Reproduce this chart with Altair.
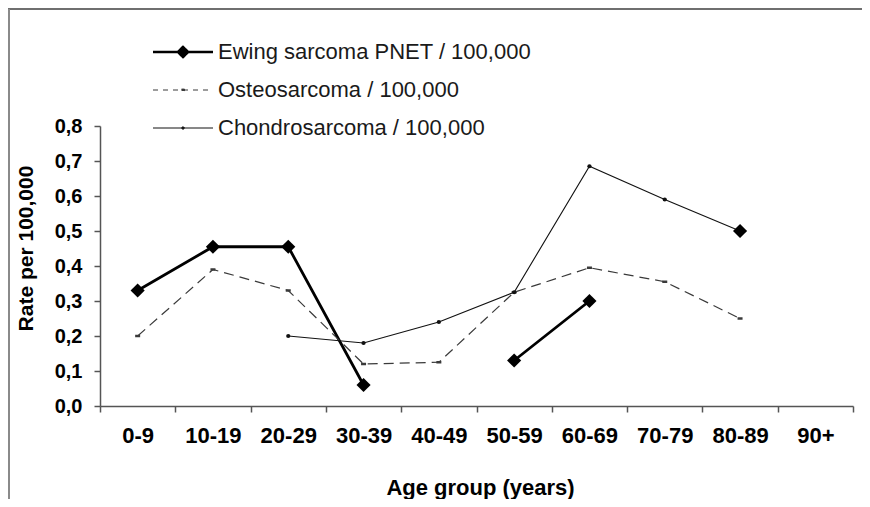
import altair as alt
import pandas as pd

categories = ["0-9", "10-19", "20-29", "30-39", "40-49", "50-59", "60-69", "70-79", "80-89", "90+"]
series_names = ["Ewing sarcoma PNET / 100,000", "Osteosarcoma / 100,000", "Chondrosarcoma / 100,000"]
ewing = [0.33, 0.455, 0.455, 0.06, None, 0.13, 0.30, None, 0.50, None]
osteo = [0.20, 0.39, 0.33, 0.12, 0.125, 0.325, 0.395, 0.355, 0.25, None]
chondro = [None, None, 0.20, 0.18, 0.24, 0.325, 0.685, 0.59, 0.50, None]

rows = []
for name, vals in zip(series_names, [ewing, osteo, chondro]):
    for c, v in zip(categories, vals):
        rows.append({"age": c, "series": name, "rate": v})
df = pd.DataFrame(rows)

W, H = 753, 280
PAD = {"left": 92, "top": 118, "right": 9, "bottom": 93}

EW_PATH = "M-1,0L1,0M0,-0.17L0.17,0L0,0.17L-0.17,0Z"
OS_PATH = "M-1,0L1,0M-0.05,-0.03L0.05,-0.03L0.05,0.03L-0.05,0.03Z"
CH_PATH = "M-1,0L1,0M0,-0.05L0.05,0L0,0.05L-0.05,0Z"
t_ew = "datum.value === '" + series_names[0] + "'"
t_os = "datum.value === '" + series_names[1] + "'"

legend = alt.Legend(
    title=None, orient="none", legendX=72, legendY=-85,
    labelFont="Liberation Sans", labelFontSize=22, labelColor="#1a1a1a",
    labelOffset=24, labelLimit=600, rowPadding=16, padding=0,
    symbolSize=3600, symbolOpacity=1,
    symbolType={"expr": f"{t_ew} ? '{EW_PATH}' : ({t_os} ? '{OS_PATH}' : '{CH_PATH}')"},
    symbolStrokeWidth={"expr": f"{t_ew} ? 2.5 : 1"},
    symbolDash={"expr": f"{t_os} ? [5, 5] : [1, 0]"},
    symbolFillColor="#000000",
    symbolStrokeColor="#000000",
)

x_enc = alt.X(
    "age:N", sort=categories,
    scale=alt.Scale(type="band", domain=categories, paddingInner=0, paddingOuter=0),
    axis=alt.Axis(
        title="Age group (years)", tickBand="extent", labelAngle=0,
        labelFont="Liberation Sans", labelFontWeight="bold", labelFontSize=22,
        labelColor="#000000", labelPadding=13, tickSize=6,
        titleFont="Liberation Sans", titleFontSize=22, titleFontWeight="bold",
        titleColor="#000000", titleX=380, titleY=88, titleBaseline="alphabetic",
    ),
)
y_enc = alt.Y(
    "rate:Q", scale=alt.Scale(domain=[0, 0.8], nice=False),
    axis=alt.Axis(
        title="Rate per 100,000", values=[0, 0.1, 0.2, 0.3, 0.4, 0.5, 0.6, 0.7, 0.8],
        labelExpr="replace(format(datum.value, '.1f'), '.', ',')",
        labelFont="Liberation Sans", labelFontWeight="bold", labelFontSize=20,
        labelColor="#000000", labelPadding=12, tickSize=6, grid=False,
        titleFont="Liberation Sans", titleFontSize=21, titleFontWeight="bold",
        titleColor="#000000", titleAngle=-90, titleX=-74, titleY=122,
        titleBaseline="middle", titleAlign="center",
    ),
)
color_enc = alt.Color(
    "series:N",
    scale=alt.Scale(domain=series_names, range=["#000000", "#3a3a3a", "#111111"]),
    legend=legend,
)

base = alt.Chart(df).encode(x=x_enc, y=y_enc, color=color_enc)

os_line = base.transform_filter(alt.datum.series == series_names[1]).mark_line(
    strokeWidth=1.2, strokeDash=[10, 6], invalid="break-paths-show-domains")
ch_line = base.transform_filter(alt.datum.series == series_names[2]).mark_line(
    strokeWidth=1.1, invalid="break-paths-show-domains")
ew_line = base.transform_filter(alt.datum.series == series_names[0]).mark_line(
    strokeWidth=2.8, invalid="break-paths-show-domains")

os_pts = base.transform_filter(alt.datum.series == series_names[1]).transform_filter(
    "isValid(datum.rate)").mark_point(
    shape="M-1,-0.5L1,-0.5L1,0.5L-1,0.5Z", size=25, filled=True, opacity=1)
ch_pts = base.transform_filter(alt.datum.series == series_names[2]).transform_filter(
    "isValid(datum.rate)").mark_point(shape="circle", size=18, filled=True, opacity=1)
ew_pts = base.transform_filter(alt.datum.series == series_names[0]).transform_filter(
    "isValid(datum.rate)").mark_point(shape="diamond", size=200, filled=True, opacity=1)

frame_top = alt.Chart(df).mark_rule(color="#6f6f6f", strokeWidth=2, clip=False).encode(
    x=alt.value(-92), x2=alt.value(W + 9), y=alt.value(-117))
frame_left = alt.Chart(df).mark_rule(color="#8a8a8a", strokeWidth=1.5, clip=False).encode(
    x=alt.value(-91), y=alt.value(-117), y2=alt.value(H + 93))

chart = alt.layer(
    frame_top, frame_left, ew_line, os_line, ch_line, os_pts, ch_pts, ew_pts
).properties(
    width=W, height=H, autosize=alt.AutoSizeParams(type="none"), padding=PAD, background="white"
).configure_view(stroke=None).configure_axis(
    domainColor="#555555", tickColor="#555555", domainWidth=1.5, tickWidth=1.5
)

chart.save("out.html", embed_options={"renderer": "svg", "actions": False})
